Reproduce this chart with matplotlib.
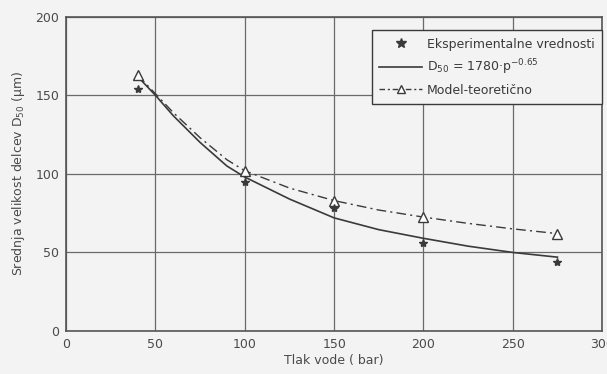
import numpy as np
from matplotlib import pyplot as plt

# tlak vode (bar)
p_exp = [40, 100, 150, 200, 275]
d_exp = [154, 95, 78, 56, 44]

p_model = [40, 100, 150, 200, 275]
d_model = [163, 102, 83, 72.5, 62]

# fitted curve D50 = 1780 p^-0.65
p_fit = [40, 50, 60, 75, 90, 100, 125, 150, 175, 200, 225, 250, 275]
d_fit = [162, 150, 137, 120, 105, 98, 84, 72, 64.5, 59, 54, 50, 47]

# dash-dot model line
p_mline = [40, 50, 60, 75, 90, 100, 125, 150, 175, 200, 225, 250, 275]
d_mline = [163, 151, 139, 123, 109, 102, 91, 83, 77, 72.5, 68.5, 65, 62]

xticks = [0, 50, 100, 150, 200, 250, 300]
yticks = [0, 50, 100, 150, 200]

bg = '#f3f3f3'
ink = '#3a3a3a'

fig = plt.figure(figsize=(6.07, 3.74), dpi=100, facecolor=bg)
ax = fig.add_axes([0.109, 0.115, 0.883, 0.84])
ax.set_facecolor(bg)

ax.plot(p_fit, d_fit, '-', color=ink, lw=1.2)
ax.plot(p_mline, d_mline, color=ink, lw=1.0, dashes=[7, 3, 1.5, 3])
ax.plot(p_model, d_model, '^', ms=7, mfc='white', mec=ink, mew=1.0, ls='none')
ax.plot(p_exp, d_exp, '*', ms=6, color=ink, ls='none')

# legend handles
h1, = ax.plot([], [], '*', ms=7, color=ink, ls='none')
h2, = ax.plot([], [], '-', color=ink, lw=1.2)
h3, = ax.plot([], [], color=ink, lw=1.0, dashes=[4, 2, 1.5, 2],
              marker='^', ms=6, mfc='white', mec=ink)
leg = ax.legend([h1, h2, h3],
                ['Eksperimentalne vrednosti',
                 'D$_{50}$ = 1780·p$^{-0.65}$',
                 'Model-teoretično'],
                loc='upper right', bbox_to_anchor=(1.0, 0.958),
                borderaxespad=0.0,
                frameon=True, fancybox=False, framealpha=1,
                facecolor=bg, edgecolor=ink, fontsize=9,
                handlelength=3.4, handletextpad=0.4,
                borderpad=0.6, labelspacing=0.55)
leg.get_frame().set_linewidth(1.0)
for t in leg.get_texts():
    t.set_color(ink)

ax.set_xlim(0, 300)
ax.set_ylim(0, 200)
ax.set_xticks(xticks)
ax.set_yticks(yticks)
ax.grid(True, color='#6a6a6a', lw=0.9)
ax.tick_params(length=0, labelsize=9, labelcolor='#4a4a4a', pad=5)
for s in ax.spines.values():
    s.set_color('#555555')
    s.set_linewidth(1.2)

ax.set_xlabel('Tlak vode ( bar)', fontsize=9, color='#4a4a4a', labelpad=2)
ax.set_ylabel('Srednja velikost delcev D$_{50}$ (μm)', fontsize=9,
              color='#4a4a4a', labelpad=6)

fig.savefig('out.png', dpi=100, facecolor=bg)
